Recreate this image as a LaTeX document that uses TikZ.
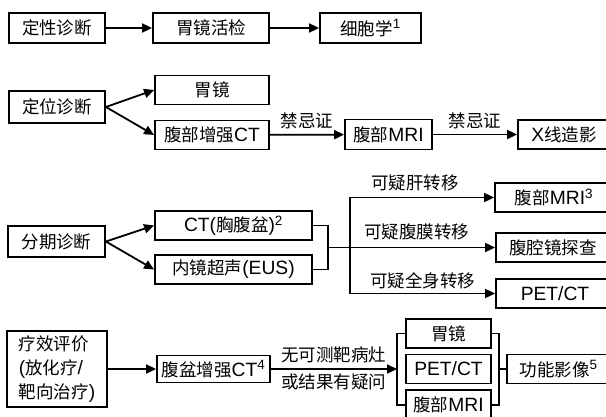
\documentclass[tikz,border=0pt]{standalone}
\usepackage{fontspec}
\setmainfont{Noto Sans CJK SC}
\newfontfamily\lat[Scale=1.1]{Liberation Sans}
\usetikzlibrary{arrows.meta,positioning}
\tikzset{
  box/.style ={draw,line width=1.8pt,minimum height=29pt,inner sep=0pt},
  arr/.style ={draw,line width=1.8pt,-{Triangle[length=10pt,width=9pt]}},
  lnk/.style ={draw,line width=1.8pt},
  lbl/.style ={inner sep=0pt},
}

\begin{document}
\begin{tikzpicture}[x=1pt,y=-1pt,font=\fontsize{17.5}{20}\selectfont]
  \useasboundingbox (0,0) rectangle (606,417);
  \clip (0,0) rectangle (606,417);
  % qualitative
  \node[box,minimum width=96pt,minimum height=30pt] (dx) at (57,28) {定性诊断};
  \node[box,minimum width=116pt,minimum height=30pt] (hj) at (211,28) {胃镜活检};
  \node[box,minimum width=101pt,minimum height=30pt] (xbx) at (370.5,28) {细胞学{\lat\textsuperscript{1}}};
  \draw[arr] (dx) -- (hj);
  \draw[arr] (hj) -- (xbx);
  % localisation
  \node[box,minimum width=96pt,minimum height=32pt] (dw) at (57,107) {定位诊断};
  \node[box,minimum width=114pt] (wj) at (212,90) {胃镜};
  \node[box,minimum width=114pt] (zqct) at (212,135) {腹部增强{\lat CT}};
  \node[box,minimum width=87pt,minimum height=30pt] (mri) at (388.5,134.5) {腹部{\lat MRI}};
  \node[box,minimum width=92pt] (xx) at (564,134.5) {{\lat X}线造影};
  \draw[arr] (dw.east) -- (wj.west);
  \draw[arr] (dw.east) -- (zqct.west);
  \draw[arr] (zqct) -- node[lbl,above=5pt]{禁忌证} (mri);
  \draw[arr] (mri) -- node[lbl,above=5pt]{禁忌证} (xx);
  % staging
  \node[box,minimum width=97pt,minimum height=31pt] (fq) at (56.5,241.5) {分期诊断};
  \node[box,minimum width=157pt] (ctx) at (233.5,225.5) {{\lat CT(}胸腹盆{\lat )\textsuperscript{2}}};
  \node[box,minimum width=157pt] (eus) at (233.5,269.5) {内镜超声{\lat (EUS)}};
  \node[box,minimum width=118pt] (mri3) at (554,197.5) {腹部{\lat MRI\textsuperscript{3}}};
  \node[box,minimum width=114pt] (fqj) at (553,247.5) {腹腔镜探查};
  \node[box,minimum width=118pt] (pet) at (555,293.5) {{\lat PET/CT}};
  \draw[arr] (fq.east) -- (ctx.west);
  \draw[arr] (fq.east) -- (eus.west);
  \draw[lnk] (ctx.east) -- ++(15,0) coordinate (kb0) |- (eus.east);
  \coordinate (kb) at (kb0 |- fqj);
  \coordinate (jt) at (350,247.5);
  \draw[arr] (kb) -- node[lbl,above=7pt,xshift=5pt]{可疑腹膜转移} (fqj.west);
  \draw[arr] (jt) |- node[lbl,above=6pt,pos=0.75,xshift=-7pt]{可疑肝转移} (mri3.west);
  \draw[arr] (jt) |- node[lbl,above=4pt,pos=0.75]{可疑全身转移} (pet.west);
  % response
  \node[box,minimum width=100pt,minimum height=76pt,align=left,
        font=\fontsize{17.5}{24}\selectfont] (lx) at (57,369)
        {疗效评价\\{\lat (}放化疗{\lat /}\\靶向治疗{\lat )}};
  \node[box,minimum width=113pt,minimum height=27pt] (pct) at (213.5,369) {腹盆增强{\lat CT\textsuperscript{4}}};
  \node[box,minimum width=85pt] (wj2) at (448.5,333.5) {胃镜};
  \node[box,minimum width=85pt] (pet2) at (448.5,369) {{\lat PET/CT}};
  \node[box,minimum width=85pt,minimum height=30pt] (mri2) at (448.5,405) {腹部{\lat MRI}};
  \node[box,minimum width=103pt] (gn) at (558.5,369) {功能影像{\lat\textsuperscript{5}}};
  \coordinate (bl) at (397,369);
  \draw[arr] (lx) -- (pct);
  \draw[arr] (pct) -- node[lbl,above=5pt]{无可测靶病灶}
                      node[lbl,below=4pt]{或结果有疑问} (bl);
  \draw[lnk] (wj2.west) -- (bl |- wj2) -- (bl |- mri2) -- (mri2.west);
  \draw[lnk] (wj2.east) -- ++(7,0) coordinate (br0) |- (mri2.east);
  \draw[lnk] (br0 |- gn) -- (gn.west);
\end{tikzpicture}
\end{document}
